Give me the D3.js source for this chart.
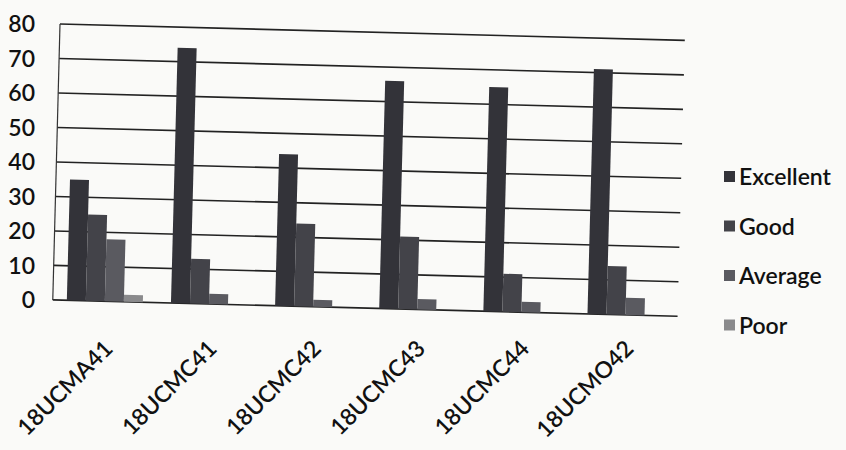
<!DOCTYPE html>
<html>
<head>
<meta charset="utf-8">
<script src="https://cdn.jsdelivr.net/npm/d3@7/dist/d3.min.js"></script>
<style>
  html, body { margin: 0; padding: 0; background: #fafaf8; }
  svg { display: block; }
  text { font-family: Lato, "Open Sans", sans-serif; fill: #111; font-weight: 600; }
</style>
</head>
<body>
<svg id="chart" width="846" height="450"></svg>
<script>
const categories = ["18UCMA41", "18UCMC41", "18UCMC42", "18UCMC43", "18UCMC44", "18UCMO42"];
const seriesNames = ["Excellent", "Good", "Average", "Poor"];
const excellent = [35, 74, 44, 66, 65, 71];
const good      = [25, 13, 24, 21, 11, 14];
const average   = [18, 3, 2, 3, 3, 5];
const poor      = [2, 0, 0, 0, 0, 0];
const yTicks = [0, 10, 20, 30, 40, 50, 60, 70, 80];
const seriesColors = ["#333339", "#434349", "#5a5a60", "#8a8a8c"];

const seriesValues = [excellent, good, average, poor];
const data = categories.map((c, i) => ({
  cat: c,
  vals: seriesNames.map((s, j) => ({ key: s, value: seriesValues[j][i] }))
}));

const svg = d3.select("#chart");
const mLeft = 60, mTop = 24, plotW = 625, plotH = 276;

const x0 = d3.scaleBand().domain(categories).range([0, plotW])
  .paddingInner(0.27).paddingOuter(0.135);
const x1 = d3.scaleBand().domain(seriesNames).range([0, x0.bandwidth()]);
const y = d3.scaleLinear().domain([0, 80]).range([plotH, 0]);
const color = d3.scaleOrdinal().domain(seriesNames).range(seriesColors);

// plot area, slightly tilted like the scanned page
const g = svg.append("g").attr("transform", `translate(${mLeft},${mTop}) rotate(1.5)`);

// gridlines
g.append("g").selectAll("line").data(yTicks).join("line")
  .attr("x1", 0).attr("x2", plotW)
  .attr("y1", d => y(d)).attr("y2", d => y(d))
  .attr("stroke", "#222").attr("stroke-width", 1.6);

// left axis line
g.append("line").attr("x1", 0).attr("x2", 0).attr("y1", y(80)).attr("y2", y(0))
  .attr("stroke", "#333").attr("stroke-width", 1.2);

// bars
g.append("g").selectAll("g").data(data).join("g")
  .attr("transform", d => `translate(${x0(d.cat)},0)`)
  .selectAll("rect").data(d => d.vals).join("rect")
  .attr("x", d => x1(d.key))
  .attr("width", x1.bandwidth())
  .attr("y", d => y(d.value))
  .attr("height", d => y(0) - y(d.value))
  .attr("fill", d => color(d.key));

// y tick labels (not tilted)
svg.append("g").selectAll("text").data(yTicks).join("text")
  .attr("x", 35).attr("y", d => mTop + y(d))
  .attr("dy", "0.35em").attr("text-anchor", "end")
  .style("font-size", "23px")
  .text(d => d);

// x labels, rotated -45
svg.append("g").selectAll("text").data(categories).join("text")
  .attr("transform", d => `translate(${mLeft + x0(d) + x0.bandwidth() / 2 + 2},${mTop + plotH + 50}) rotate(-45)`)
  .attr("text-anchor", "end")
  .style("font-size", "23px")
  .text(d => d);

// legend
const lg = svg.append("g").attr("transform", "translate(724,177)");
const li = lg.selectAll("g").data(seriesNames).join("g")
  .attr("transform", (d, i) => `translate(0,${i * 49.5})`);
li.append("rect").attr("x", 0).attr("y", -6).attr("width", 11).attr("height", 11)
  .attr("fill", d => color(d));
li.append("text").attr("x", 15).attr("dy", "0.35em")
  .style("font-size", "23px").text(d => d);
</script>
</body>
</html>
